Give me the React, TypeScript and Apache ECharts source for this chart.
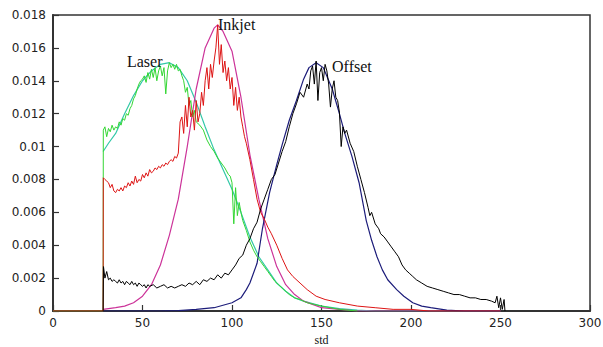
import React, { useEffect, useRef } from "react";
import * as echarts from "echarts";

type Pt = [number, number];

const xTicks = [0, 50, 100, 150, 200, 250, 300];
const yMax = 0.018;
const yStep = 0.002;
const xAxisName = "std";

const labelLaser: Pt = [41.3, 0.0152];
const labelInkjet: Pt = [92.2, 0.0174];
const labelOffset: Pt = [155.9, 0.01484];

// Laser – measured (noisy)
const laserRaw: Pt[] = [
  [0, 0], [28, 0], [28.1, 0.011], [29, 0.0112], [30, 0.0106], [31, 0.0111], [32, 0.0109], [33, 0.0113],
  [34, 0.011], [35, 0.0112], [36, 0.0111], [37, 0.0115], [38, 0.0113], [39, 0.0117], [40, 0.0116],
  [41, 0.012], [42, 0.0119], [43, 0.0123], [44, 0.0125], [45, 0.0129], [46, 0.0131], [47, 0.0135],
  [48, 0.0138], [49, 0.014], [50, 0.0141], [51, 0.0143], [52, 0.0139], [53, 0.0145], [54, 0.0141],
  [55, 0.0147], [56, 0.0142], [57, 0.0148], [58, 0.014], [59, 0.0146], [60, 0.0149], [61, 0.0143],
  [62, 0.0148], [63, 0.0132], [64, 0.0146], [65, 0.0151], [66, 0.0148], [67, 0.015], [68, 0.0147],
  [69, 0.015], [70, 0.0146], [71, 0.0147], [72, 0.0143], [73, 0.014], [74, 0.0133], [75, 0.0136],
  [76, 0.0125], [77, 0.0128], [78, 0.0118], [79, 0.0122], [80, 0.0115], [82, 0.0113], [84, 0.011],
  [86, 0.0104], [88, 0.01], [90, 0.0097], [92, 0.0093], [94, 0.009], [96, 0.0087], [98, 0.0083],
  [99, 0.0082], [100, 0.0078], [101, 0.0053], [102, 0.0075], [103, 0.0058], [104, 0.0066],
  [105, 0.006], [106, 0.0055], [108, 0.0049], [110, 0.0042], [112, 0.0037], [114, 0.0033],
  [116, 0.003], [118, 0.0027], [120, 0.0024], [122, 0.0021], [124, 0.0018], [126, 0.0016],
  [128, 0.0014], [130, 0.0012], [132, 0.001], [135, 0.0008], [138, 0.0007], [142, 0.0005],
  [146, 0.0004], [150, 0.0003], [155, 0.0002], [160, 0.0001], [170, 0]
];

// Laser – fitted
const laserFit: Pt[] = [
  [28, 0.0097], [31, 0.0102], [35, 0.0108], [40, 0.012], [45, 0.0131], [50, 0.014], [55, 0.0146],
  [60, 0.015], [65, 0.0151], [70, 0.0148], [75, 0.014], [80, 0.0127], [85, 0.0112], [90, 0.0098],
  [95, 0.0086], [100, 0.0074], [105, 0.006], [110, 0.0045], [115, 0.0033], [120, 0.0025],
  [125, 0.0017], [130, 0.0012], [135, 0.0008], [140, 0.0006], [150, 0.0003], [160, 0.00015],
  [170, 0.00005], [180, 0], [250, 0]
];

// Inkjet – measured (noisy)
const inkjetRaw: Pt[] = [
  [0, 0], [28, 0], [28.1, 0.0081], [29, 0.008], [30, 0.0079], [31, 0.0078], [32, 0.0075], [33, 0.0077],
  [34, 0.0073], [35, 0.0072], [36, 0.0074], [37, 0.0073], [38, 0.0075], [39, 0.0073], [40, 0.0076],
  [41, 0.0075], [42, 0.0078], [43, 0.0076], [44, 0.0079], [45, 0.0077], [46, 0.0082], [47, 0.0078],
  [48, 0.008], [49, 0.0079], [50, 0.0083], [51, 0.0081], [52, 0.0084], [53, 0.0082], [54, 0.0086],
  [55, 0.0084], [56, 0.0085], [57, 0.0087], [58, 0.0086], [59, 0.0088], [60, 0.0087], [61, 0.0089],
  [62, 0.0088], [63, 0.009], [64, 0.0089], [65, 0.0091], [66, 0.0092], [67, 0.0091], [68, 0.0094],
  [69, 0.0093], [70, 0.0096], [71, 0.0115], [72, 0.0118], [73, 0.0108], [74, 0.0125], [75, 0.0112],
  [76, 0.013], [77, 0.0118], [78, 0.0122], [79, 0.011], [80, 0.0128], [81, 0.0115], [82, 0.012],
  [83, 0.0133], [84, 0.0125], [85, 0.014], [86, 0.0148], [87, 0.0135], [88, 0.015], [89, 0.0142],
  [90, 0.0152], [91, 0.016], [92, 0.0174], [93, 0.015], [94, 0.0162], [95, 0.0145], [96, 0.0152],
  [97, 0.014], [98, 0.0148], [99, 0.0135], [100, 0.0142], [101, 0.0125], [102, 0.0136],
  [103, 0.0122], [104, 0.013], [105, 0.0118], [106, 0.0112], [107, 0.0106], [108, 0.0102],
  [110, 0.0092], [112, 0.008], [114, 0.0068], [116, 0.006], [118, 0.0056], [120, 0.0051],
  [122, 0.0047], [125, 0.004], [128, 0.0032], [131, 0.0025], [134, 0.0021], [138, 0.0017],
  [142, 0.0013], [147, 0.0009], [152, 0.0007], [160, 0.0005], [170, 0.0003], [180, 0.0002],
  [190, 0.0001], [200, 0.0001], [210, 0], [250, 0]
];

// Inkjet – fitted
const inkjetFit: Pt[] = [
  [28, 0.0001], [35, 0.0002], [40, 0.0003], [45, 0.0005], [50, 0.0009], [55, 0.0016], [60, 0.0028],
  [65, 0.0046], [70, 0.0068], [75, 0.01], [80, 0.0135], [85, 0.016], [90, 0.0172], [92, 0.0174],
  [95, 0.017], [100, 0.0158], [105, 0.013], [110, 0.0095], [115, 0.0068], [120, 0.0044],
  [125, 0.0027], [130, 0.0016], [135, 0.001], [140, 0.0006], [145, 0.0004], [150, 0.0002],
  [160, 0.0001], [170, 0], [250, 0]
];

// Offset – measured (noisy)
const offsetRaw: Pt[] = [
  [28, 0], [28.2, 0.0027], [29, 0.002], [30, 0.0024], [31, 0.0019], [32, 0.002], [33, 0.0018],
  [34, 0.0019], [35, 0.0018], [36, 0.0017], [37, 0.0019], [38, 0.0017], [39, 0.0018], [40, 0.0016],
  [41, 0.0018], [42, 0.0017], [43, 0.0016], [44, 0.0018], [45, 0.0016], [46, 0.0017], [47, 0.0015],
  [48, 0.0017], [49, 0.0016], [50, 0.0015], [51, 0.0016], [52, 0.0014], [53, 0.0016], [54, 0.0015],
  [56, 0.0016], [58, 0.0014], [60, 0.0015], [62, 0.0016], [64, 0.0014], [66, 0.0015], [68, 0.0014],
  [70, 0.0015], [72, 0.0016], [74, 0.0015], [76, 0.0017], [78, 0.0016], [80, 0.0018], [82, 0.0016],
  [84, 0.0019], [86, 0.0018], [88, 0.002], [90, 0.0019], [92, 0.0022], [94, 0.002], [96, 0.0023],
  [98, 0.0022], [100, 0.0025], [102, 0.0028], [104, 0.0032], [106, 0.0034], [108, 0.004],
  [110, 0.0044], [112, 0.005], [114, 0.0054], [116, 0.0062], [118, 0.0068], [120, 0.0074],
  [122, 0.008], [124, 0.0083], [126, 0.009], [128, 0.0097], [130, 0.0103], [132, 0.0112],
  [134, 0.012], [136, 0.0126], [138, 0.0133], [140, 0.013], [142, 0.0138], [143, 0.0135],
  [144, 0.0146], [145, 0.0149], [146, 0.0138], [147, 0.0152], [148, 0.0128], [149, 0.0145],
  [150, 0.0148], [151, 0.014], [152, 0.015], [153, 0.0146], [154, 0.0138], [155, 0.0124],
  [156, 0.0135], [157, 0.014], [158, 0.013], [159, 0.0128], [160, 0.0121], [161, 0.01],
  [162, 0.0112], [163, 0.0108], [164, 0.011], [166, 0.0102], [168, 0.0097], [170, 0.0088],
  [172, 0.008], [174, 0.0072], [176, 0.0063], [177, 0.0058], [178, 0.006], [180, 0.0053],
  [182, 0.005], [183, 0.0047], [185, 0.0045], [187, 0.0042], [189, 0.0039], [191, 0.0036],
  [193, 0.0033], [195, 0.0028], [197, 0.0025], [199, 0.0023], [201, 0.0021], [203, 0.0019],
  [206, 0.0017], [209, 0.0015], [212, 0.0014], [215, 0.0013], [218, 0.0012], [221, 0.0011],
  [224, 0.001], [227, 0.001], [230, 0.0009], [233, 0.0008], [236, 0.0008], [239, 0.0007],
  [242, 0.0007], [245, 0.0006], [247, 0.0005], [248, 0.0009], [249, 0.0002], [250, 0.0008],
  [251, 0.0001], [252, 0.0007], [252.5, 0]
];

// Offset – fitted
const offsetFit: Pt[] = [
  [28, 0], [60, 0], [70, 0.00002], [80, 0.0001], [90, 0.0002], [100, 0.0005], [105, 0.0008],
  [108, 0.0013], [110, 0.0017], [114, 0.0029], [117, 0.005], [121, 0.0072], [125, 0.0089],
  [128, 0.0101], [132, 0.0116], [136, 0.0128], [140, 0.0141], [143, 0.0148], [147, 0.0151],
  [151, 0.0148], [156, 0.0135], [160, 0.012], [163, 0.0108], [167, 0.0094], [171, 0.0078],
  [175, 0.0055], [178, 0.0043], [181, 0.0033], [184, 0.0025], [187, 0.0019], [192, 0.0013],
  [196, 0.0009], [201, 0.0005], [206, 0.0003], [211, 0.0002], [220, 0.00005], [230, 0], [250, 0]
];

function textMark(name: string, coord: Pt) {
  return {
    symbol: "circle",
    symbolSize: 0,
    silent: true,
    data: [{ name, coord }],
    label: {
      show: true,
      position: "right",
      distance: 0,
      formatter: name,
      color: "#111",
      fontFamily: "Liberation Serif",
      fontSize: 16,
    },
  };
}

function lineSeries(data: Pt[], color: string, width: number, mark?: any) {
  const s: any = {
    type: "line",
    data,
    showSymbol: false,
    symbol: "none",
    lineStyle: { color, width },
    itemStyle: { color },
    z: 3,
  };
  if (mark) s.markPoint = mark;
  return s;
}

export default function App() {
  const ref = useRef<HTMLDivElement>(null);
  useEffect(() => {
    document.body.style.margin = "0";
    if (!ref.current) return;
    const chart = echarts.init(ref.current, undefined, { renderer: "svg" });
    const axisLabel = { color: "#222", fontFamily: "DejaVu Sans", fontSize: 12 };
    chart.setOption({
      animation: false,
      backgroundColor: "#fff",
      grid: {
        left: 53,
        right: 13,
        top: 15,
        bottom: 36,
        show: true,
        borderColor: "#333",
        borderWidth: 1.5,
        containLabel: false,
        outerBoundsMode: "none",
      },
      xAxis: {
        type: "value",
        min: xTicks[0],
        max: xTicks[xTicks.length - 1],
        interval: xTicks[1] - xTicks[0],
        name: xAxisName,
        nameLocation: "middle",
        nameGap: 21,
        nameTextStyle: { color: "#111", fontFamily: "Liberation Serif", fontSize: 12 },
        axisLine: { lineStyle: { color: "#333", width: 2 } },
        axisTick: { inside: true, length: 6, lineStyle: { color: "#333", width: 1.2 } },
        axisLabel: { ...axisLabel, margin: 6 },
        splitLine: { show: false },
      },
      yAxis: {
        type: "value",
        min: 0,
        max: yMax,
        interval: yStep,
        axisLine: { show: true, lineStyle: { color: "#333", width: 2 } },
        axisTick: { show: true, inside: true, length: 6, lineStyle: { color: "#333", width: 1.2 } },
        axisLabel: { ...axisLabel, margin: 7, formatter: (v: number) => (v === 0 ? "0" : String(+v.toFixed(3))) },
        splitLine: { show: false },
      },
      series: [
        lineSeries(laserFit, "#33c8a8", 1.2),
        lineSeries(inkjetFit, "#cc3399", 1.2),
        lineSeries(offsetFit, "#1c1c7a", 1.2),
        lineSeries(laserRaw, "#33d633", 1, textMark("Laser", labelLaser)),
        lineSeries(inkjetRaw, "#dd1414", 1, textMark("Inkjet", labelInkjet)),
        lineSeries(offsetRaw, "#000000", 1, textMark("Offset", labelOffset)),
      ],
    });
    return () => chart.dispose();
  }, []);
  return <div ref={ref} style={{ width: 603, height: 347 }} />;
}
